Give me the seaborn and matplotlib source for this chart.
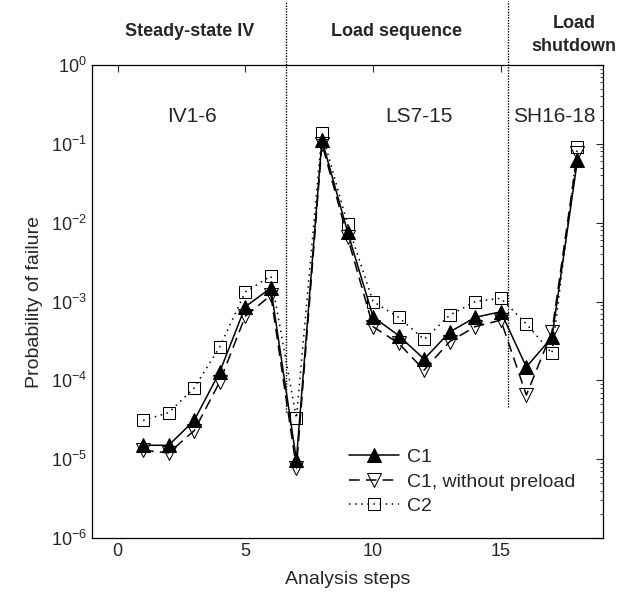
import pandas as pd
import matplotlib
matplotlib.use('Agg')
import matplotlib.pyplot as plt
import seaborn as sns

# values (probability of failure per analysis step)
steps = list(range(1, 19))
c1 = [1.5e-5, 1.5e-5, 3.1e-5, 1.28e-4, 8.6e-4, 1.48e-3, 9.8e-6, 0.112, 7.7e-3,
      6.4e-4, 3.7e-4, 1.86e-4, 4.1e-4, 6.3e-4, 7.4e-4, 1.48e-4, 3.5e-4, 0.062]
c1_nopre = [1.3e-5, 1.2e-5, 2.3e-5, 9.6e-5, 6.5e-4, 1.2e-3, 7.7e-6, 0.10, 6.6e-3,
            4.8e-4, 2.95e-4, 1.35e-4, 3.1e-4, 4.8e-4, 5.8e-4, 6.5e-5, 4.1e-4, 0.077]
c2 = [3.1e-5, 3.9e-5, 8.0e-5, 2.66e-4, 1.32e-3, 2.1e-3, 3.3e-5, 0.138, 9.6e-3,
      1.0e-3, 6.3e-4, 3.3e-4, 6.7e-4, 1.0e-3, 1.1e-3, 5.2e-4, 2.2e-4, 0.092]

phase_bounds = [6.6, 15.3]
phase_titles = ['Steady-state IV', 'Load sequence', 'Load\nshutdown']
phase_labels = ['IV1-6', 'LS7-15', 'SH16-18']

df = pd.DataFrame({'step': steps, 'C1': c1, 'C1_nopre': c1_nopre, 'C2': c2})

sns.set_style('white')
plt.rcParams['font.family'] = ['Liberation Sans', 'DejaVu Sans']

W, H = 635, 598
fig = plt.figure(figsize=(W / 100, H / 100), dpi=100)
ax = fig.add_axes([92 / W, 1 - 538 / H, (603 - 92) / W, (538 - 65) / H])

sns.lineplot(data=df, x='step', y='C1', ax=ax, color='black', lw=1.1,
             marker='^', markersize=10, markerfacecolor='black',
             markeredgecolor='black', label='C1')
sns.lineplot(data=df, x='step', y='C1_nopre', ax=ax, color='black', lw=1.1,
             linestyle=(0, (7, 4)), marker='v', markersize=10,
             markerfacecolor='none', markeredgecolor='black',
             label='C1, without preload')
sns.lineplot(data=df, x='step', y='C2', ax=ax, color='black', lw=1.1,
             linestyle=(0, (1, 3)), marker='s', markersize=8,
             markerfacecolor='none', markeredgecolor='black', label='C2')

ax.set_yscale('log')
ax.set_ylim(1e-6, 1)
ax.set_xlim(-1, 19)
ax.set_xticks([0, 5, 10, 15])
ax.set_yticks([10.0 ** k for k in range(-6, 1)])
ax.tick_params(which='both', direction='in', top=True, right=True, labelsize=13)
ax.tick_params(which='major', length=5)
ax.tick_params(which='minor', length=2.5)
for s in ax.spines.values():
    s.set_color('black')
    s.set_linewidth(0.9)

ax.set_xlabel('Analysis steps', fontsize=14, labelpad=8)
ax.set_ylabel('Probability of failure', fontsize=14, labelpad=6)

# phase separators, extending above the axes
ax.plot([phase_bounds[0]] * 2, [4e-5, 6.5], color='black', ls=(0, (1, 1)),
        lw=1, clip_on=False)
ax.plot([phase_bounds[1]] * 2, [4.6e-5, 6.5], color='black', ls=(0, (1, 1)),
        lw=1, clip_on=False)

# phase labels inside and headings above
ax.text(2.9, 0.22, phase_labels[0], ha='center', va='center', fontsize=15)
ax.text(11.8, 0.22, phase_labels[1], ha='center', va='center', fontsize=15)
ax.text(17.1, 0.22, phase_labels[2], ha='center', va='center', fontsize=15)
fig.text(190 / W, 1 - 31 / H, phase_titles[0], ha='center', va='center',
         fontsize=13, fontweight='bold')
fig.text(396 / W, 1 - 31 / H, phase_titles[1], ha='center', va='center',
         fontsize=13, fontweight='bold')
fig.text(574 / W, 1 - 35 / H, phase_titles[2], ha='center', va='center',
         fontsize=13, fontweight='bold', linespacing=1.5)

ax.legend(loc='lower left', bbox_to_anchor=(0.476, 0.02), frameon=False,
          fontsize=14, handlelength=2.6, handletextpad=0.4, labelspacing=0.35,
          borderaxespad=0.3)

fig.savefig('out.png', dpi=100)
